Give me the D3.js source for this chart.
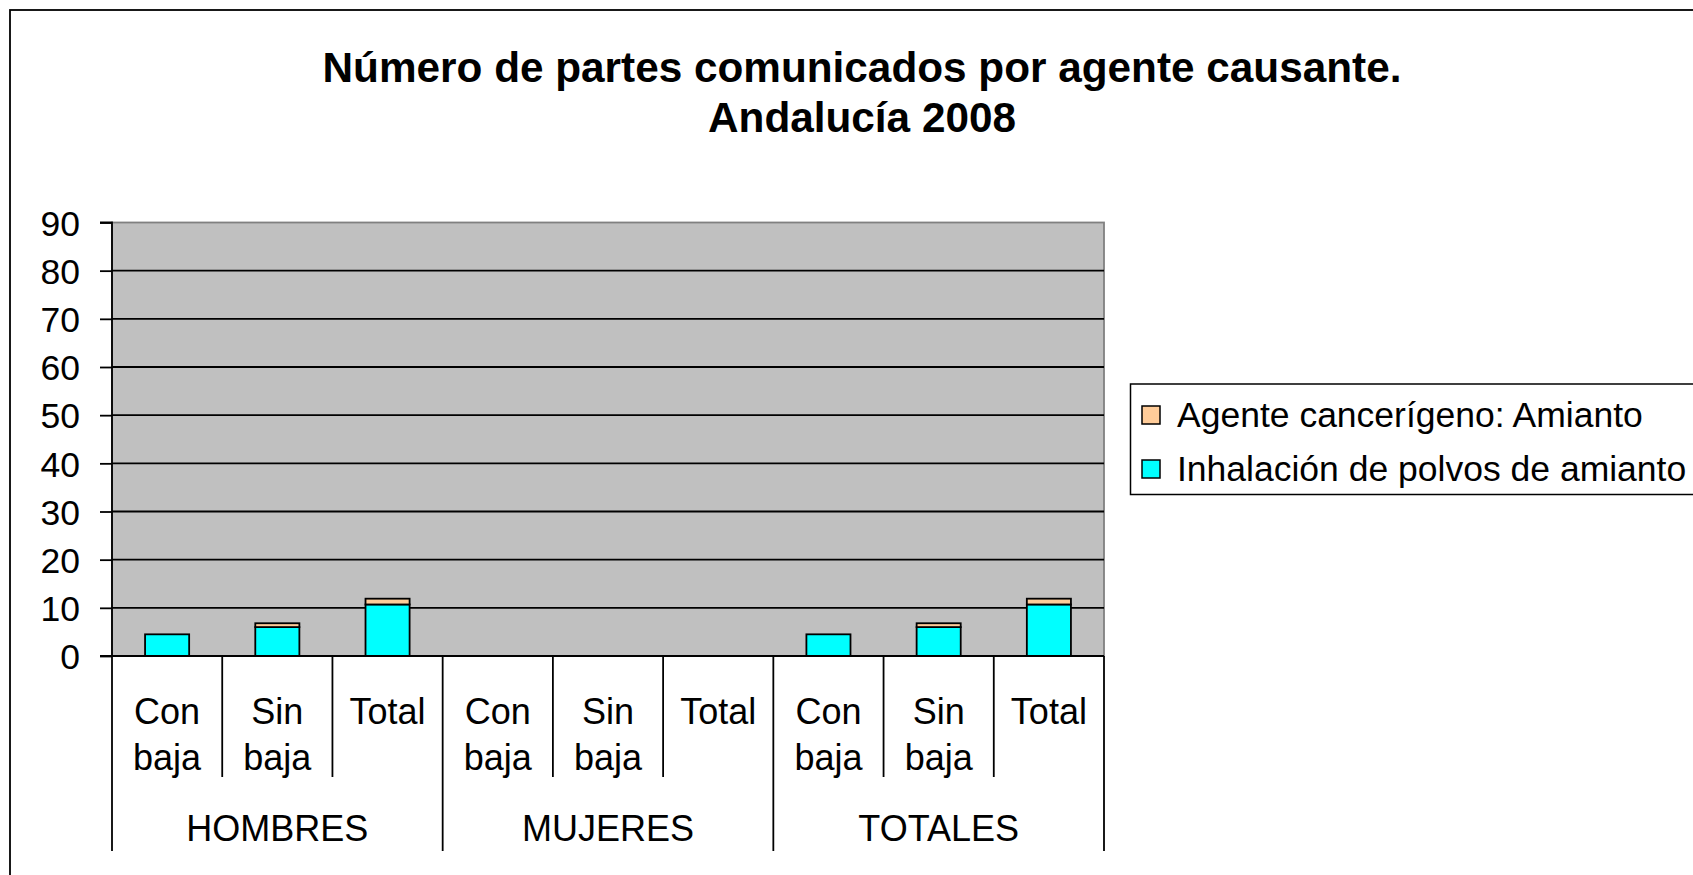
<!DOCTYPE html>
<html><head><meta charset="utf-8">
<script src="https://cdn.jsdelivr.net/npm/d3@7"></script>
<style>
html,body{margin:0;padding:0;background:#fff;}
svg{display:block;font-family:"Liberation Sans",Arial,sans-serif;}
</style></head>
<body>
<svg id="chart" width="1693" height="875"></svg>
<script>
const titleLines = ["Número de partes comunicados por agente causante.", "Andalucía 2008"];
const groups = ["HOMBRES", "MUJERES", "TOTALES"];
const subcats = ["Con baja", "Sin baja", "Total"];
const seriesNames = ["Inhalación de polvos de amianto", "Agente cancerígeno: Amianto"];
const inhalacion = [4.5, 6, 10.7, 0, 0, 0, 4.5, 6, 10.7];
const amianto = [0, 0.8, 1.2, 0, 0, 0, 0, 0.8, 1.2];
const yTicks = [0, 10, 20, 30, 40, 50, 60, 70, 80, 90];
const colors = ["#00FFFF", "#FFCC99"];

const svg = d3.select("#chart");
const plot = {left: 112, right: 1104, top: 222.5, bottom: 656};

// outer border (extends past the window on right/bottom)
svg.append("rect").attr("x", 10).attr("y", 10).attr("width", 1720).attr("height", 900)
  .attr("fill", "#fff").attr("stroke", "#000").attr("stroke-width", 1.8);

// title
const title = svg.append("text").attr("text-anchor", "middle")
  .attr("font-weight", "bold").attr("font-size", 42.3).attr("fill", "#000");
titleLines.forEach((t, i) => title.append("tspan").attr("x", 862).attr("y", 82 + i * 50).text(t));

// categories
const cats = [];
groups.forEach(g => subcats.forEach(s => cats.push(g + "|" + s)));
const data = cats.map((c, i) => ({key: c, g: c.split("|")[0], s: c.split("|")[1], v0: inhalacion[i], v1: amianto[i]}));

const x = d3.scaleBand().domain(cats).range([plot.left, plot.right]).paddingInner(0.6).paddingOuter(0.3);
const y = d3.scaleLinear().domain([0, 90]).range([plot.bottom, plot.top]);
const step = x.step();

// plot area
svg.append("rect").attr("x", plot.left).attr("y", plot.top)
  .attr("width", plot.right - plot.left).attr("height", plot.bottom - plot.top)
  .attr("fill", "#C0C0C0").attr("stroke", "#808080").attr("stroke-width", 1.8);

// gridlines
svg.append("g").selectAll("line").data(yTicks.filter(d => d > 0 && d < 90)).join("line")
  .attr("x1", plot.left).attr("x2", plot.right)
  .attr("y1", d => y(d)).attr("y2", d => y(d))
  .attr("stroke", "#000").attr("stroke-width", 1.8);

// y axis
const yAxis = d3.axisLeft(y).tickValues(yTicks).tickSize(12).tickPadding(20);
const ya = svg.append("g").attr("transform", `translate(${plot.left},0)`).call(yAxis);
ya.select(".domain").attr("stroke", "#000").attr("stroke-width", 1.8).attr("d", `M-12,${plot.top}H0V${plot.bottom}`);
ya.selectAll(".tick line").attr("stroke", "#000").attr("stroke-width", 1.8);
ya.selectAll(".tick text").attr("font-size", 35.5).attr("fill", "#000")
  .attr("font-family", "Liberation Sans, Arial, sans-serif").attr("dy", "0.36em");

// stacked bars
const stack = d3.stack().keys(["v0", "v1"])(data);
stack.forEach((layer, li) => {
  svg.append("g").selectAll("rect").data(layer.filter(d => d[1] - d[0] > 0)).join("rect")
    .attr("x", d => x(d.data.key)).attr("width", x.bandwidth())
    .attr("y", d => y(d[1])).attr("height", d => y(d[0]) - y(d[1]))
    .attr("fill", colors[li]).attr("stroke", "#000").attr("stroke-width", 1.8);
});

// x axis line
svg.append("line").attr("x1", plot.left - 12).attr("x2", plot.right)
  .attr("y1", plot.bottom).attr("y2", plot.bottom).attr("stroke", "#000").attr("stroke-width", 1.8);

// category dividers
const dividers = d3.range(cats.length + 1);
svg.append("g").selectAll("line").data(dividers).join("line")
  .attr("x1", i => plot.left + i * step).attr("x2", i => plot.left + i * step)
  .attr("y1", plot.bottom).attr("y2", i => (i % 3 === 0) ? 851 : 777)
  .attr("stroke", "#000").attr("stroke-width", 1.8);

// category labels
const lbl = svg.append("g").attr("font-size", 36).attr("fill", "#000").attr("text-anchor", "middle");
data.forEach(d => {
  const cx = x(d.key) + x.bandwidth() / 2;
  d.s.split(" ").forEach((w, i) => {
    lbl.append("text").attr("x", cx).attr("y", 724 + i * 46).text(w);
  });
});
groups.forEach((g, i) => {
  const cx = plot.left + (i * 3 + 1.5) * step;
  lbl.append("text").attr("x", cx).attr("y", 841).text(g);
});

// legend
const lg = svg.append("g");
lg.append("rect").attr("x", 1130.5).attr("y", 384).attr("width", 620).attr("height", 110.5)
  .attr("fill", "#fff").attr("stroke", "#000").attr("stroke-width", 1.5);
const legendOrder = [1, 0];
legendOrder.forEach((si, i) => {
  const yy = 415 + i * 54;
  lg.append("rect").attr("x", 1142).attr("y", yy - 9).attr("width", 18).attr("height", 18)
    .attr("fill", colors[si]).attr("stroke", "#000").attr("stroke-width", 1.5);
  lg.append("text").attr("x", 1177).attr("y", yy + 12).attr("font-size", 35.5).attr("fill", "#000")
    .text(seriesNames[si]);
});
</script>
</body></html>
